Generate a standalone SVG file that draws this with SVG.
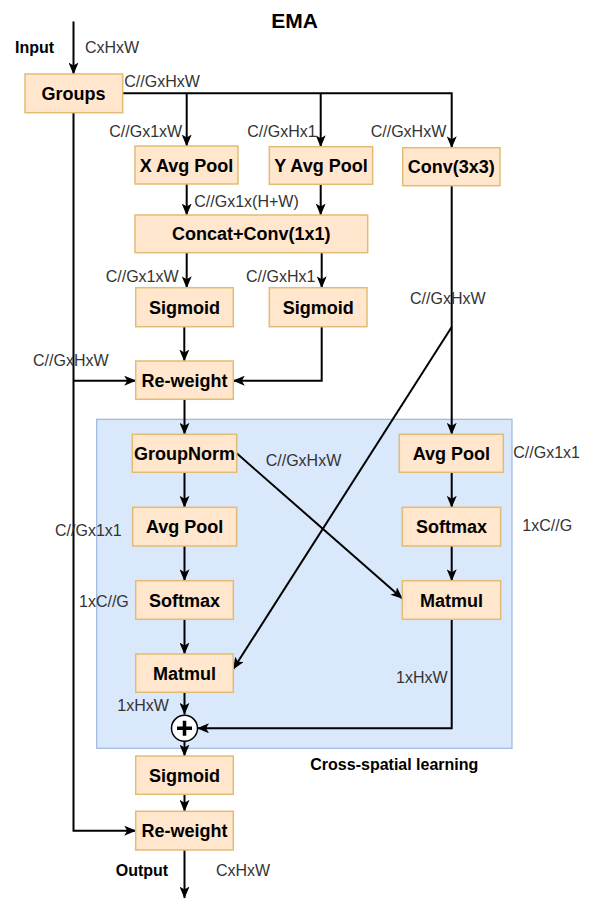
<svg xmlns="http://www.w3.org/2000/svg" width="589" height="899" viewBox="0 0 589 899">
  <defs>
    <marker id="arrow" viewBox="0 0 12 10" refX="11.5" refY="5" markerWidth="12" markerHeight="10" markerUnits="userSpaceOnUse" orient="auto">
      <path d="M0,0 L12,5 L0,10 L3,5 Z" fill="#000"/>
    </marker>
    <style>
      .node rect { fill: #ffe6cc; stroke: #e2bc74; stroke-width: 1.5; }
      .node text { font-family: "Liberation Sans", Arial, sans-serif; font-size: 18px; font-weight: bold; fill: #000; text-anchor: middle; }
      .edge { fill: none; stroke: #000; stroke-width: 2; }
      .arr { marker-end: url(#arrow); }
      .lbl { font-family: "Liberation Sans", Arial, sans-serif; font-size: 16px; fill: #333; }
      .title { font-family: "Liberation Sans", Arial, sans-serif; font-weight: bold; fill: #000; }
    </style>
  </defs>

  <rect width="589" height="899" fill="#fff"/>

  <!-- cross-spatial learning region -->
  <g id="cross-spatial">
    <rect x="96.7" y="419.3" width="415.3" height="329" fill="#dae8fc" stroke="#9db5de" stroke-width="1.2"/>
    <text class="title" x="310.3" y="770" font-size="16">Cross-spatial learning</text>
  </g>

  <!-- titles -->
  <text class="title" x="294.7" y="28.3" font-size="21" text-anchor="middle">EMA</text>
  <text class="title" x="15" y="53" font-size="16">Input</text>
  <text class="title" x="115.7" y="876" font-size="16">Output</text>

  <!-- connectors -->
  <g id="connectors">
    <path class="edge arr" d="M73.5,21.5 V74"/>
    <path class="edge arr" d="M122.7,93.3 H451.7 V147.7"/>
    <path class="edge arr" d="M186.7,93.3 V146"/>
    <path class="edge arr" d="M320.7,93.3 V146.7"/>
    <path class="edge arr" d="M186.7,184 V215"/>
    <path class="edge arr" d="M320.7,184.3 V215"/>
    <path class="edge arr" d="M186.7,252.7 V287.7"/>
    <path class="edge arr" d="M321.7,252.7 V287.7"/>
    <path class="edge arr" d="M184.3,326.7 V361"/>
    <path class="edge arr" d="M321.7,326.7 V380.7 H233.3"/>
    <path class="edge arr" d="M73.5,112.7 V830.7 H135.7"/>
    <path class="edge arr" d="M73.5,380.7 H135.7"/>
    <path class="edge arr" d="M184.5,399.3 V434.3"/>
    <path class="edge arr" d="M451.7,185.7 V434.3"/>
    <path class="edge arr" d="M451.7,327 L233.3,669"/>
    <path class="edge arr" d="M236.7,453.3 L402.3,598.5"/>
    <path class="edge arr" d="M184.5,472.3 V507.3"/>
    <path class="edge arr" d="M184.5,546 V580.7"/>
    <path class="edge arr" d="M184.5,619.3 V654"/>
    <path class="edge arr" d="M184.5,692.3 V714.3"/>
    <path class="edge arr" d="M451.7,472.3 V507.3"/>
    <path class="edge arr" d="M451.7,546 V580.7"/>
    <path class="edge arr" d="M451.7,619.3 V728.3 H197.5"/>
    <path class="edge arr" d="M184.5,741.3 V756"/>
    <path class="edge arr" d="M184.5,794.3 V811.3"/>
    <path class="edge arr" d="M184.5,850 V898"/>
  </g>

  <!-- nodes -->
  <g id="groups" class="node"><rect x="25" y="74" width="97.7" height="38.7"/><text x="73.5" y="99.8">Groups</text></g>
  <g id="x-avg-pool" class="node"><rect x="135" y="146" width="103" height="38"/><text x="186.5" y="171.5">X Avg Pool</text></g>
  <g id="y-avg-pool" class="node"><rect x="269.3" y="146.7" width="103.4" height="37.6"/><text x="321" y="172">Y Avg Pool</text></g>
  <g id="conv3x3" class="node"><rect x="402.7" y="147.7" width="97.3" height="38"/><text x="451.3" y="173.2">Conv(3x3)</text></g>
  <g id="concat-conv" class="node"><rect x="135" y="215" width="232.7" height="37.7"/><text x="251.3" y="240.3">Concat+Conv(1x1)</text></g>
  <g id="sigmoid-x" class="node"><rect x="135.7" y="287.7" width="97.6" height="39"/><text x="184.5" y="313.7">Sigmoid</text></g>
  <g id="sigmoid-y" class="node"><rect x="269.3" y="287.7" width="97.7" height="39"/><text x="318.2" y="313.7">Sigmoid</text></g>
  <g id="reweight-1" class="node"><rect x="135.7" y="361" width="97.6" height="38.3"/><text x="184.5" y="386.7">Re-weight</text></g>
  <g id="groupnorm" class="node"><rect x="132.3" y="434.3" width="104.4" height="38"/><text x="184.5" y="459.8">GroupNorm</text></g>
  <g id="avg-pool-l" class="node"><rect x="132.7" y="507.3" width="104" height="38.7"/><text x="184.7" y="533.2">Avg Pool</text></g>
  <g id="softmax-l" class="node"><rect x="135.7" y="580.7" width="97.6" height="38.6"/><text x="184.5" y="606.5">Softmax</text></g>
  <g id="matmul-l" class="node"><rect x="135.7" y="654" width="97.6" height="38.3"/><text x="184.5" y="679.7">Matmul</text></g>
  <g id="avg-pool-r" class="node"><rect x="399.3" y="434.3" width="104" height="38"/><text x="451.3" y="459.8">Avg Pool</text></g>
  <g id="softmax-r" class="node"><rect x="402.3" y="507.3" width="98.4" height="38.7"/><text x="451.5" y="533.2">Softmax</text></g>
  <g id="matmul-r" class="node"><rect x="402.3" y="580.7" width="98.4" height="38.6"/><text x="451.5" y="606.5">Matmul</text></g>
  <g id="sum">
    <circle cx="184.5" cy="728.3" r="13" fill="#fff" stroke="#000" stroke-width="1.5"/>
    <path d="M177,728.3 H192 M184.5,720.8 V735.8" stroke="#000" stroke-width="3.5" fill="none"/>
  </g>
  <g id="sigmoid-out" class="node"><rect x="135.7" y="756" width="97.6" height="38.3"/><text x="184.5" y="781.7">Sigmoid</text></g>
  <g id="reweight-2" class="node"><rect x="135.7" y="811.3" width="97.6" height="38.7"/><text x="184.5" y="837.2">Re-weight</text></g>

  <!-- shape labels -->
  <g id="labels">
    <text class="lbl" x="85" y="53">CxHxW</text>
    <text class="lbl" x="124.3" y="87.3">C//GxHxW</text>
    <text class="lbl" x="109.3" y="136.7">C//Gx1xW</text>
    <text class="lbl" x="247.3" y="137.3">C//GxHx1</text>
    <text class="lbl" x="370.7" y="137.3">C//GxHxW</text>
    <text class="lbl" x="194.3" y="207">C//Gx1x(H+W)</text>
    <text class="lbl" x="105.7" y="281.7">C//Gx1xW</text>
    <text class="lbl" x="246" y="281.7">C//GxHx1</text>
    <text class="lbl" x="410" y="304">C//GxHxW</text>
    <text class="lbl" x="33" y="365.7">C//GxHxW</text>
    <text class="lbl" x="265.7" y="466">C//GxHxW</text>
    <text class="lbl" x="513.3" y="458.3">C//Gx1x1</text>
    <text class="lbl" x="522.3" y="531">1xC//G</text>
    <text class="lbl" x="55" y="535.7">C//Gx1x1</text>
    <text class="lbl" x="79" y="606.7">1xC//G</text>
    <text class="lbl" x="396" y="682.7">1xHxW</text>
    <text class="lbl" x="117.3" y="710.7">1xHxW</text>
    <text class="lbl" x="216" y="876">CxHxW</text>
  </g>
</svg>
